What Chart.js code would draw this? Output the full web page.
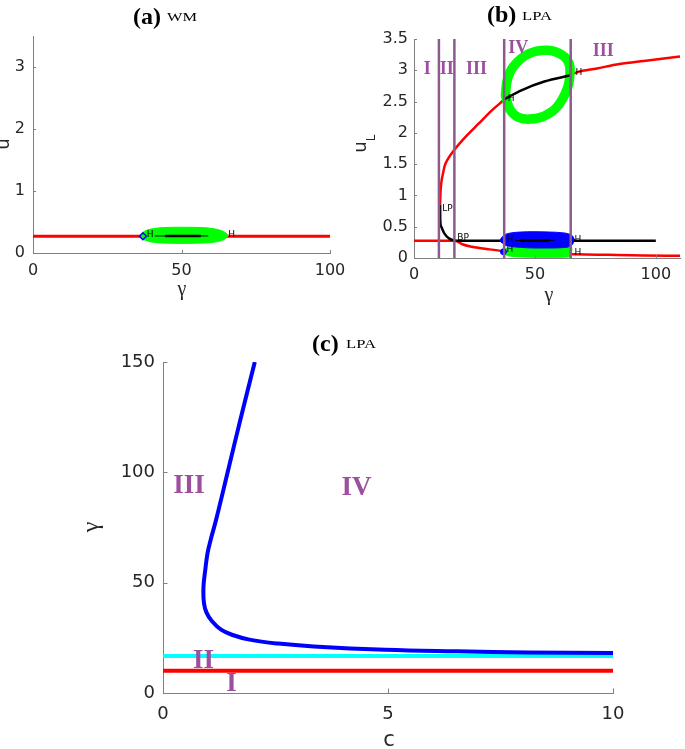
<!DOCTYPE html>
<html><head><meta charset="utf-8">
<script src="https://cdn.jsdelivr.net/npm/chart.js@4.4.0/dist/chart.umd.min.js"></script>
<style>
html,body{margin:0;padding:0;background:#fff;width:685px;height:749px;overflow:hidden;position:relative}
canvas{position:absolute}
</style></head><body>
<canvas id="ca"></canvas>
<canvas id="cb"></canvas>
<canvas id="cc"></canvas>
<script>
// ================= DATA =================
// ---- panel (a) WM ----
const A_X_TICKS = [0, 50, 100];
const A_X_LABELS = ['0', '50', '100'];
const A_Y_TICKS = [0, 1, 2, 3];
const A_Y_LABELS = ['0', '1', '2', '3'];
const A_RED_G = [0, 100];
const A_RED_U = [0.27, 0.27];
const A_GREEN_G = [36.3, 37, 38.5, 41, 44, 50, 57, 61, 63.5, 65, 65.8];
const A_GREEN_TOP_U = [0.28, 0.33, 0.37, 0.395, 0.41, 0.415, 0.41, 0.39, 0.36, 0.32, 0.28];
const A_GREEN_BOT_U = [0.28, 0.23, 0.195, 0.17, 0.16, 0.155, 0.16, 0.175, 0.2, 0.24, 0.28];
const A_BLACK_THIN_G = [41, 59];
const A_BLACK_THICK_G = [44.5, 56.5];
const A_BLACK_U = [0.275, 0.275];
const A_HOPF_G = [37];
const A_HOPF_U = [0.27];
const A_H_LABEL_G = [38.3, 65.7];
const A_H_LABEL_U = [0.3, 0.3];

// ---- panel (b) LPA ----
const B_X_TICKS = [0, 50, 100];
const B_X_LABELS = ['0', '50', '100'];
const B_Y_TICKS = [0, 0.5, 1, 1.5, 2, 2.5, 3, 3.5];
const B_Y_LABELS = ['0', '0.5', '1', '1.5', '2', '2.5', '3', '3.5'];
const B_RED_UP1_G = [10.8, 10.9, 11.25, 12.0, 12.6, 14.0, 16.7, 21.4, 26.8, 32.2, 37];
const B_RED_UP1_U = [0.85, 1.0, 1.19, 1.35, 1.46, 1.58, 1.73, 1.94, 2.15, 2.36, 2.52];
const B_BLACK_UP_G = [37, 44.4, 53.9, 64.8];
const B_BLACK_UP_U = [2.53, 2.68, 2.82, 2.92];
const B_RED_UP2_G = [64.8, 67.5, 75.6, 85, 95, 110];
const B_RED_UP2_U = [2.92, 2.97, 3.03, 3.10, 3.15, 3.22];
const B_BLACK_LP_G = [10.8, 10.85, 11.25, 12.6, 14.6, 16.7, 17.5];
const B_BLACK_LP_U = [0.85, 0.62, 0.5, 0.39, 0.31, 0.28, 0.275];
const B_RED_TRIV_G = [0, 17.5];
const B_RED_TRIV_U = [0.275, 0.275];
const B_BLACK_MID1_G = [17.5, 37];
const B_BLACK_MID2_G = [66, 100];
const B_BLACK_MID_U = [0.275, 0.275];
const B_BLACK_IN_THIN_G = [42, 58];
const B_BLACK_IN_THICK_G = [44, 56];
const B_BLACK_IN_U = [0.28, 0.28];
const B_RED_LOW_G = [17.5, 20, 24, 30, 37, 50, 66, 80, 95, 110];
const B_RED_LOW_U = [0.275, 0.22, 0.18, 0.145, 0.11, 0.08, 0.06, 0.05, 0.04, 0.035];
const B_RING_G = [37.8, 38.6, 41.1, 47.2, 55.3, 61.4, 64.1, 64.5, 63.4, 59.3, 53.9, 47.8, 43.1, 39.7, 37.8];
const B_RING_U = [2.60, 2.85, 3.06, 3.26, 3.32, 3.24, 3.11, 2.95, 2.71, 2.42, 2.27, 2.22, 2.25, 2.37, 2.60];
const B_BLUE_G = [36, 36.8, 38, 40, 44, 50, 56, 61, 64, 65.6, 66.4];
const B_BLUE_TOP_U = [0.29, 0.35, 0.38, 0.40, 0.415, 0.42, 0.415, 0.405, 0.385, 0.35, 0.29];
const B_BLUE_BOT_U = [0.29, 0.23, 0.2, 0.185, 0.17, 0.16, 0.16, 0.165, 0.18, 0.22, 0.29];
const B_CRES_TOP_G = [36.8, 38, 42, 50, 58, 63, 65.3];
const B_CRES_TOP_U = [0.1, 0.15, 0.18, 0.18, 0.18, 0.18, 0.17];
const B_CRES_BOT_G = [36.8, 38, 41, 45, 52, 60, 64, 65.0, 65.3];
const B_CRES_BOT_U = [0.1, 0.05, 0.025, 0.015, 0.01, 0.01, 0.015, 0.03, 0.17];
const B_HOPF_G = [37, 37];
const B_HOPF_U = [0.285, 0.1];
const B_BOUNDARY_G = [10.3, 16.7, 37.3, 64.8];
const B_BOUNDARY_U = [0, 3.5];
const B_REGION_TEXT = ['I', 'II', 'III', 'IV', 'III'];
const B_REGION_G = [5.5, 13.5, 25.8, 43.1, 78.3];
const B_REGION_U = [3.02, 3.02, 3.02, 3.35, 3.30];
const B_POINT_TEXT = ['LP', 'BP', 'H', 'H', 'H', 'H', 'H', 'H'];
const B_POINT_G = [11.7, 17.9, 38.8, 66.8, 38.3, 38.3, 66.4, 66.4];
const B_POINT_U = [0.79, 0.32, 2.54, 2.97, 0.29, 0.13, 0.30, 0.08];

// ---- panel (c) LPA ----
const C_X_TICKS = [0, 5, 10];
const C_X_LABELS = ['0', '5', '10'];
const C_Y_TICKS = [0, 50, 100, 150];
const C_Y_LABELS = ['0', '50', '100', '150'];
const C_HOPF_C = [2.04, 1.72, 1.45, 1.18, 1.06, 0.99, 0.94, 0.90, 0.91, 0.97, 1.09, 1.29, 1.53, 1.92, 2.56, 3.35, 4.94, 6.53, 8.12, 10.0];
const C_HOPF_G = [150, 123.9, 101.2, 78.5, 69.5, 63.4, 55.9, 48.3, 40.8, 36.3, 32.5, 28.7, 26.4, 24.2, 22.4, 21.1, 19.6, 18.9, 18.4, 18.1];
const C_BP_C = [0, 10];
const C_BP_G = [16.8, 16.8];
const C_LP_C = [0, 10];
const C_LP_G = [10.1, 10.1];
const C_REGION_TEXT = ['III', 'IV', 'II', 'I'];
const C_REGION_C = [0.58, 4.3, 0.9, 1.52];
const C_REGION_G = [93.7, 92.9, 14.5, 4.1];

// ================= STYLE / LAYOUT =================
const AXIS_COLOR = '#808080';
const TICK_COLOR = '#262626';
const PURPLE_TEXT = '#9d4f9f';
const PURPLE_LINE = '#8c5a8c';
const RED = '#ff0000', GREEN = '#00ff00', BLUE = '#0000ff', CYAN = '#00ffff', BLACK = '#000000';
const SANS = '"DejaVu Sans", sans-serif';
const SERIF = '"Liberation Serif", serif';

const LAYOUT = {
  a: {left: -12, top: 0, w: 359, h: 305, l: 33, r: 330, t: 36, b: 253},
  b: {left: 340, top: 0, w: 345, h: 305, l: 414, r: 685, t: 39, b: 258},
  c: {left: 60, top: 320, w: 625, h: 429, l: 163, r: 613, t: 362, b: 693}
};

function pts(xs, ys) { return xs.map((x, i) => ({x: x, y: ys[i]})); }
function line(xs, ys, color, width, order, extra) {
  return Object.assign({data: pts(xs, ys), showLine: true, borderColor: color, backgroundColor: color,
    borderWidth: width, pointRadius: 0, fill: false, tension: 0, order: order,
    borderCapStyle: 'butt', borderJoinStyle: 'round'}, extra || {});
}
const SMOOTH = {cubicInterpolationMode: 'monotone'};

function scaleCfg(axis, min, max, ticks, labels, size, pad, fixed) {
  return {
    type: 'linear', min: min, max: max,
    grid: {display: false, drawTicks: false},
    border: {display: true, color: AXIS_COLOR, width: 1},
    ticks: {font: {family: SANS, size: size}, color: TICK_COLOR, padding: pad, autoSkip: false,
      maxRotation: 0, minRotation: 0, callback: (v, i) => labels[i]},
    afterBuildTicks: s => { s.ticks = ticks.map(v => ({value: v})); },
    afterFit: s => {
      if (axis === 'x') s.height = fixed; else s.width = fixed;
      s.paddingLeft = 0; s.paddingRight = 0; s.paddingTop = 0; s.paddingBottom = 0;
    }
  };
}

function tickMarks(len) {
  return {
    id: 'tickmarks',
    afterDatasetsDraw(chart) {
      const ctx = chart.ctx, a = chart.chartArea, sx = chart.scales.x, sy = chart.scales.y;
      ctx.save(); ctx.strokeStyle = AXIS_COLOR; ctx.lineWidth = 1; ctx.beginPath();
      for (const t of sx.ticks) { const p = Math.round(sx.getPixelForValue(t.value)) + 0.5; ctx.moveTo(p, a.bottom); ctx.lineTo(p, a.bottom - len); }
      for (const t of sy.ticks) { const p = Math.round(sy.getPixelForValue(t.value)) + 0.5; ctx.moveTo(a.left, p); ctx.lineTo(a.left + len, p); }
      ctx.stroke(); ctx.restore();
    }
  };
}

function texts(items, L) {
  return {
    id: 'texts',
    afterDraw(chart) {
      const ctx = chart.ctx, sx = chart.scales.x, sy = chart.scales.y;
      for (const it of items) {
        let x, y;
        if (it.data) { x = sx.getPixelForValue(it.x); y = sy.getPixelForValue(it.y); }
        else { x = it.x - L.left; y = it.y - L.top; }
        ctx.save(); ctx.translate(x, y);
        if (it.rot) ctx.rotate(it.rot);
        if (it.sx) ctx.scale(it.sx, 1);
        ctx.font = it.font; ctx.fillStyle = it.color || TICK_COLOR;
        ctx.textAlign = it.align || 'center'; ctx.textBaseline = it.base || 'middle';
        ctx.fillText(it.t, 0, 0); ctx.restore();
      }
    }
  };
}

function makeChart(id, key, datasets, xr, yr, tickLen, items) {
  const L = LAYOUT[key];
  const cv = document.getElementById(id);
  cv.width = L.w; cv.height = L.h;
  cv.style.left = L.left + 'px'; cv.style.top = L.top + 'px';
  cv.style.width = L.w + 'px'; cv.style.height = L.h + 'px';
  const x = scaleCfg('x', xr.min, xr.max, xr.ticks, xr.labels, xr.size, xr.pad, L.top + L.h - L.b);
  const y = scaleCfg('y', yr.min, yr.max, yr.ticks, yr.labels, yr.size, yr.pad, L.l - L.left);
  x.position = 'bottom'; y.position = 'left';
  return new Chart(cv.getContext('2d'), {
    type: 'scatter',
    data: {datasets: datasets},
    options: {
      responsive: false, animation: false, devicePixelRatio: 1, events: [],
      layout: {padding: {left: 0, top: L.t - L.top, right: L.left + L.w - L.r, bottom: 0}},
      scales: {x: x, y: y},
      plugins: {legend: {display: false}, tooltip: {enabled: false}, title: {display: false}}
    },
    plugins: [tickMarks(tickLen), texts(items, L)]
  });
}

// ================= PANEL (a) =================
const aSets = [
  line(A_HOPF_G, A_HOPF_U, BLUE, 1.5, 1, {showLine: false, pointRadius: 3.5, pointStyle: 'rectRot', pointBackgroundColor: 'rgba(0,0,0,0)', pointBorderColor: BLUE, pointBorderWidth: 1.5}),
  line(A_BLACK_THICK_G, A_BLACK_U, BLACK, 2.5, 2),
  line(A_BLACK_THIN_G, A_BLACK_U, BLACK, 1, 2),
  line(A_GREEN_G, A_GREEN_TOP_U, GREEN, 1, 3, Object.assign({fill: '+1'}, SMOOTH)),
  line(A_GREEN_G, A_GREEN_BOT_U, GREEN, 1, 3, SMOOTH),
  line(A_RED_G, A_RED_U, RED, 3, 4)
];
const aItems = [
  {t: '(a)', x: 133, y: 24, font: 'bold 24px ' + SERIF, color: '#000', align: 'left', base: 'alphabetic'},
  {t: 'WM', x: 167, y: 21, font: '13px ' + SERIF, color: '#000', align: 'left', base: 'alphabetic', sx: 1.26},
  {t: 'u', x: 4, y: 144, font: '18px ' + SANS, rot: -Math.PI / 2},
  {t: 'γ', x: 182, y: 290, font: '20px ' + SERIF}
];
A_H_LABEL_G.forEach((g, i) => aItems.push({t: 'H', data: true, x: g, y: A_H_LABEL_U[i], font: '9px ' + SANS, color: '#000', align: 'left'}));
makeChart('ca', 'a', aSets,
  {min: 0, max: 100, ticks: A_X_TICKS, labels: A_X_LABELS, size: 16, pad: 8},
  {min: 0, max: 3.5, ticks: A_Y_TICKS, labels: A_Y_LABELS, size: 16, pad: 8}, 3, aItems);

// ================= PANEL (b) =================
const bSets = [];
B_BOUNDARY_G.forEach(g => bSets.push(line([g, g], B_BOUNDARY_U, PURPLE_LINE, 2.5, 1)));
bSets.push(
  line(B_HOPF_G, B_HOPF_U, BLUE, 1, 2, {showLine: false, pointRadius: 3, pointStyle: 'circle', pointBackgroundColor: BLUE, pointBorderColor: BLUE}),
  line(B_BLACK_UP_G, B_BLACK_UP_U, BLACK, 2.5, 2, SMOOTH),
  line(B_BLACK_LP_G, B_BLACK_LP_U, BLACK, 2.5, 2, SMOOTH),
  line(B_BLACK_MID1_G, B_BLACK_MID_U, BLACK, 2.5, 2),
  line(B_BLACK_MID2_G, B_BLACK_MID_U, BLACK, 2.5, 2),
  line(B_BLACK_IN_THIN_G, B_BLACK_IN_U, BLACK, 1, 2),
  line(B_BLACK_IN_THICK_G, B_BLACK_IN_U, BLACK, 2.5, 2),
  line(B_BLUE_G, B_BLUE_TOP_U, BLUE, 1, 3, Object.assign({fill: '+1'}, SMOOTH)),
  line(B_BLUE_G, B_BLUE_BOT_U, BLUE, 1, 3, SMOOTH),
  line(B_CRES_TOP_G, B_CRES_TOP_U, GREEN, 1, 4, Object.assign({fill: '+1'}, SMOOTH)),
  line(B_CRES_BOT_G, B_CRES_BOT_U, GREEN, 1, 4, SMOOTH),
  line(B_RING_G, B_RING_U, GREEN, 9.5, 5, {tension: 0.4, borderJoinStyle: 'round', borderCapStyle: 'round'}),
  line(B_RED_UP1_G, B_RED_UP1_U, RED, 2.5, 6, SMOOTH),
  line(B_RED_UP2_G, B_RED_UP2_U, RED, 2.5, 6, SMOOTH),
  line(B_RED_TRIV_G, B_RED_TRIV_U, RED, 2.5, 6),
  line(B_RED_LOW_G, B_RED_LOW_U, RED, 2.5, 6, SMOOTH)
);
const bItems = [
  {t: '(b)', x: 487, y: 22, font: 'bold 24px ' + SERIF, color: '#000', align: 'left', base: 'alphabetic'},
  {t: 'LPA', x: 522, y: 20, font: '13px ' + SERIF, color: '#000', align: 'left', base: 'alphabetic', sx: 1.28},
  {t: 'u', x: 361, y: 147, font: '18px ' + SANS, rot: -Math.PI / 2},
  {t: 'L', x: 372, y: 138, font: '12px ' + SANS, rot: -Math.PI / 2},
  {t: 'γ', x: 549, y: 296, font: '20px ' + SERIF}
];
B_REGION_TEXT.forEach((t, i) => bItems.push({t: t, data: true, x: B_REGION_G[i], y: B_REGION_U[i], font: 'bold 18px ' + SERIF, color: PURPLE_TEXT}));
B_POINT_TEXT.forEach((t, i) => bItems.push({t: t, data: true, x: B_POINT_G[i], y: B_POINT_U[i], font: '9px ' + SANS, color: '#000', align: 'left'}));
makeChart('cb', 'b', bSets,
  {min: 0, max: 110, ticks: B_X_TICKS, labels: B_X_LABELS, size: 16, pad: 7},
  {min: 0, max: 3.5, ticks: B_Y_TICKS, labels: B_Y_LABELS, size: 16, pad: 6}, 3, bItems);

// ================= PANEL (c) =================
const cSets = [
  line(C_HOPF_C, C_HOPF_G, BLUE, 4, 1, {tension: 0.4, borderCapStyle: 'butt'}),
  line(C_BP_C, C_BP_G, CYAN, 4, 2),
  line(C_LP_C, C_LP_G, RED, 4, 2)
];
const cItems = [
  {t: '(c)', x: 312, y: 351, font: 'bold 24px ' + SERIF, color: '#000', align: 'left', base: 'alphabetic'},
  {t: 'LPA', x: 346, y: 348, font: '13px ' + SERIF, color: '#000', align: 'left', base: 'alphabetic', sx: 1.28},
  {t: 'γ', x: 92, y: 527, font: '24px ' + SERIF, rot: -Math.PI / 2},
  {t: 'c', x: 389, y: 741, font: '21px ' + SANS}
];
C_REGION_TEXT.forEach((t, i) => cItems.push({t: t, data: true, x: C_REGION_C[i], y: C_REGION_G[i], font: 'bold 27px ' + SERIF, color: PURPLE_TEXT}));
makeChart('cc', 'c', cSets,
  {min: 0, max: 10, ticks: C_X_TICKS, labels: C_X_LABELS, size: 18, pad: 11},
  {min: 0, max: 150, ticks: C_Y_TICKS, labels: C_Y_LABELS, size: 18, pad: 8}, 4.5, cItems);
</script>
</body></html>
